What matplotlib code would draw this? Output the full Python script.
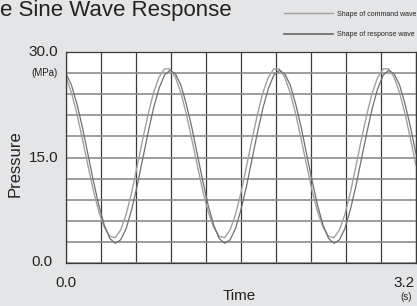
import numpy as np
import matplotlib.pyplot as plt
from matplotlib.lines import Line2D

plt.rcParams['font.family'] = ['Liberation Sans', 'DejaVu Sans']

# time samples (s) and pressure (MPa)
time = np.linspace(0, 3.2, 65)
command = [26.4, 24.2, 21.2, 17.6, 13.9, 10.3, 7.3, 5.1, 3.8, 3.6,
           4.7, 6.9, 10.0, 13.7, 17.5, 21.1, 24.2, 26.4, 27.6, 27.6,
           26.4, 24.2, 21.2, 17.6, 13.9, 10.3, 7.3, 5.1, 3.8, 3.6,
           4.7, 6.9, 10.0, 13.7, 17.5, 21.1, 24.2, 26.4, 27.6, 27.6,
           26.4, 24.2, 21.2, 17.6, 13.9, 10.3, 7.3, 5.1, 3.8, 3.6,
           4.7, 6.9, 10.0, 13.7, 17.5, 21.1, 24.2, 26.4, 27.6, 27.6,
           26.4, 24.2, 21.2, 17.6, 13.9]
response = [26.9, 25.3, 22.6, 19.3, 15.5, 11.7, 8.2, 5.4, 3.5, 2.8,
            3.3, 4.9, 7.6, 10.9, 14.7, 18.5, 22.0, 24.8, 26.7, 27.4,
            26.9, 25.3, 22.6, 19.3, 15.5, 11.7, 8.2, 5.4, 3.5, 2.8,
            3.3, 4.9, 7.6, 10.9, 14.7, 18.5, 22.0, 24.8, 26.7, 27.4,
            26.9, 25.3, 22.6, 19.3, 15.5, 11.7, 8.2, 5.4, 3.5, 2.8,
            3.3, 4.9, 7.6, 10.9, 14.7, 18.5, 22.0, 24.8, 26.7, 27.4,
            26.9, 25.3, 22.6, 19.3, 15.5]

W, H = 417, 306
bg = '#e4e5e7'
txt = '#222222'
cmd_col = '#a0a0a0'
resp_col = '#707070'

def fx(px):
    return px / W

def fy(py):
    return 1 - py / H

fig = plt.figure(figsize=(W / 100, H / 100), dpi=100, facecolor=bg)
ax = fig.add_axes([fx(66), fy(263), (416 - 66) / W, (263 - 52) / H])
ax.set_facecolor('white')
ax.set_xlim(0, 3.2)
ax.set_ylim(0, 30)
ax.set_xticks(np.linspace(0, 3.2, 11))
ax.set_yticks(np.arange(0, 31, 3))
ax.tick_params(length=0, labelbottom=False, labelleft=False)
ax.xaxis.grid(True, color='#3a3a3a', linewidth=0.9)
ax.yaxis.grid(True, color='#8c8c8c', linewidth=1.2)
for s in ax.spines.values():
    s.set_color('#3a3a3a')
    s.set_linewidth(0.9)

ax.plot(time, command, color=cmd_col, linewidth=1.0)
ax.plot(time, response, color=resp_col, linewidth=0.9)

# title (cut off at left edge as in the source)
fig.text(fx(0), fy(16), 'e Sine Wave Response', fontsize=16, color=txt,
         ha='left', va='baseline')

# legend
fig.add_artist(Line2D([fx(284), fx(333)], [fy(13), fy(13)], color=cmd_col, linewidth=1.0))
fig.add_artist(Line2D([fx(284), fx(333)], [fy(34), fy(34)], color=resp_col, linewidth=1.3))
fig.text(fx(337), fy(14), 'Shape of command wave', fontsize=5, color=txt, ha='left', va='center')
fig.text(fx(337), fy(35), 'Shape of response wave', fontsize=5, color=txt, ha='left', va='center')

# y labels
fig.text(fx(58), fy(52), '30.0', fontsize=11, color=txt, ha='right', va='center')
fig.text(fx(58), fy(73), '(MPa)', fontsize=7, color=txt, ha='right', va='center')
fig.text(fx(58), fy(158), '15.0', fontsize=11, color=txt, ha='right', va='center')
fig.text(fx(52), fy(262), '0.0', fontsize=11, color=txt, ha='right', va='center')
fig.text(fx(15), fy(164), 'Pressure', fontsize=12, color=txt, ha='center', va='center',
         rotation=90)

# x labels
fig.text(fx(66), fy(283), '0.0', fontsize=11, color=txt, ha='center', va='center')
fig.text(fx(415), fy(283), '3.2', fontsize=11, color=txt, ha='right', va='center')
fig.text(fx(406), fy(297), '(s)', fontsize=7, color=txt, ha='center', va='center')
fig.text(fx(239), fy(296), 'Time', fontsize=11, color=txt, ha='center', va='center')

fig.savefig('out.png', dpi=100, facecolor=bg)
